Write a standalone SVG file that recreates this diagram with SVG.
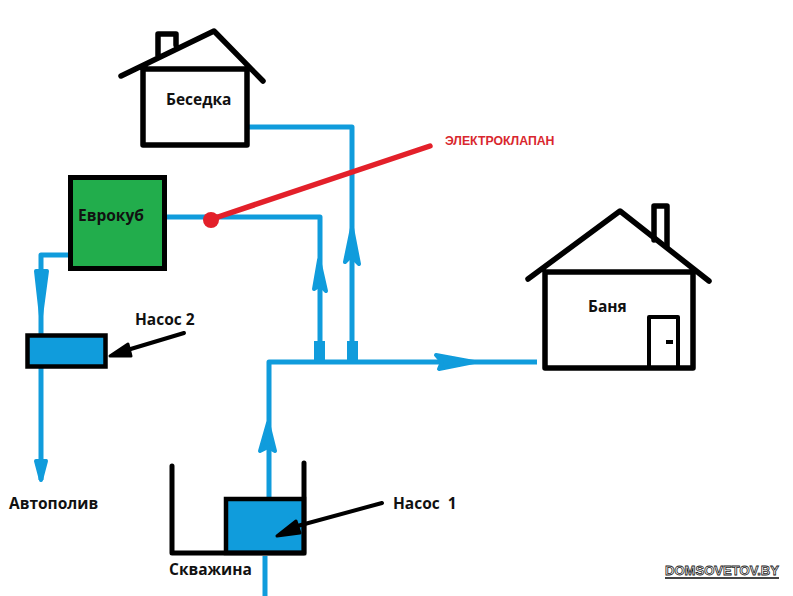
<svg xmlns="http://www.w3.org/2000/svg" width="793" height="596" viewBox="0 0 793 596">
<style>
.k{fill:none;stroke:#000;stroke-width:5.500;stroke-linecap:round;stroke-linejoin:round}
.p{fill:none;stroke:#109cdc;stroke-width:5;stroke-linecap:butt;stroke-linejoin:round}
.h{fill:#109cdc;stroke:#109cdc;stroke-width:4;stroke-linejoin:round;stroke-linecap:round}
.t{font-family:"Open Sans","Liberation Sans",sans-serif;font-weight:700;font-size:15.500px;fill:#111}
.a{fill:#000;stroke:#000;stroke-width:3;stroke-linejoin:round}
</style>
<rect width="793" height="596" fill="#fff"/>
<g id="connectors">
<path class="p" d="M248 127H352V360"/>
<path class="p" d="M166 217H320V360"/>
<path class="p" d="M269 498V362H537"/>
<path class="p" d="M265 556V596"/>
<path class="p" d="M69 255H41V335"/>
<path class="p" d="M41 366V480"/>
<path class="h" d="M352 228L345 262L351 256L359 264Z"/>
<path class="h" d="M319 260L314 289L320 285L326 291Z"/>
<path class="h" d="M268 423L260 451L268 447L275 451Z"/>
<path class="h" d="M41 316L47 271L36 271Z"/>
<path class="h" d="M41 480L46 461L36 461Z"/>
<path class="h" d="M474 362L436 355L442 362L439 369Z"/>
<rect x="314" y="341" width="11" height="20" fill="#109cdc"/>
<rect x="347" y="341" width="11" height="20" fill="#109cdc"/>
</g>
<g id="besedka">
<path class="k" d="M121 76L214 31L263 81M143 69V145H247V69H143M158 56V34H176V45"/>
<text class="t" x="166" y="105">Беседка</text>
</g>
<g id="banya">
<path class="k" d="M528 279L620 211L709 281M545 272H693V368H545Z"/>
<path class="k" d="M654 240V206H667V246"/>
<path class="k" d="M649 367V317H678V367" style="stroke-width:4"/>
<rect x="666" y="340" width="7" height="4" fill="#000"/>
<text class="t" x="588" y="312">Баня</text>
</g>
<g id="eurocube">
<rect x="70.500" y="177.500" width="94" height="91" fill="#22ad4c" stroke="#000" stroke-width="5"/>
<text class="t" x="78" y="221">Еврокуб</text>
</g>
<g id="pump2">
<rect x="27.500" y="335.500" width="78" height="31" fill="#109cdc" stroke="#000" stroke-width="4.500"/>
<path class="k" d="M184 333L124 351" style="stroke-width:4"/>
<path class="a" d="M110 356L128 344L131 356Z"/>
<text class="t" x="135" y="325">Насос 2</text>
</g>
<g id="well">
<rect x="226" y="499" width="78" height="54" fill="#109cdc" stroke="#000" stroke-width="4.500"/>
<path class="k" d="M172 466V553H304V463" style="stroke-width:5"/>
<path class="k" d="M382 503L290 528" style="stroke-width:4"/>
<path class="a" d="M277 536L296 521L300 533Z"/>
<text class="t" x="393" y="509" xml:space="preserve">Насос  1</text>
<text class="t" x="169" y="575">Скважина</text>
</g>
<g id="valve">
<path d="M212 219L430 146" fill="none" stroke="#e3202a" stroke-width="5.500" stroke-linecap="round"/>
<ellipse cx="211" cy="220" rx="8" ry="8" fill="#e3202a"/>
<text x="445" y="145" font-family="'Liberation Sans',sans-serif" font-size="12.300" font-weight="700" fill="#d9272e">ЭЛЕКТРОКЛАПАН</text>
</g>
<g id="autopoliv">
<text class="t" x="9" y="509">Автополив</text>
</g>
<g id="watermark">
<rect x="665" y="577" width="114" height="2" fill="#444"/>
<text x="665" y="575" font-family="'Liberation Sans',sans-serif" font-size="13" font-weight="700" fill="#fff" stroke="#222" stroke-width="0.800" textLength="114" lengthAdjust="spacingAndGlyphs">DOMSOVETOV.BY</text>
</g>
</svg>
